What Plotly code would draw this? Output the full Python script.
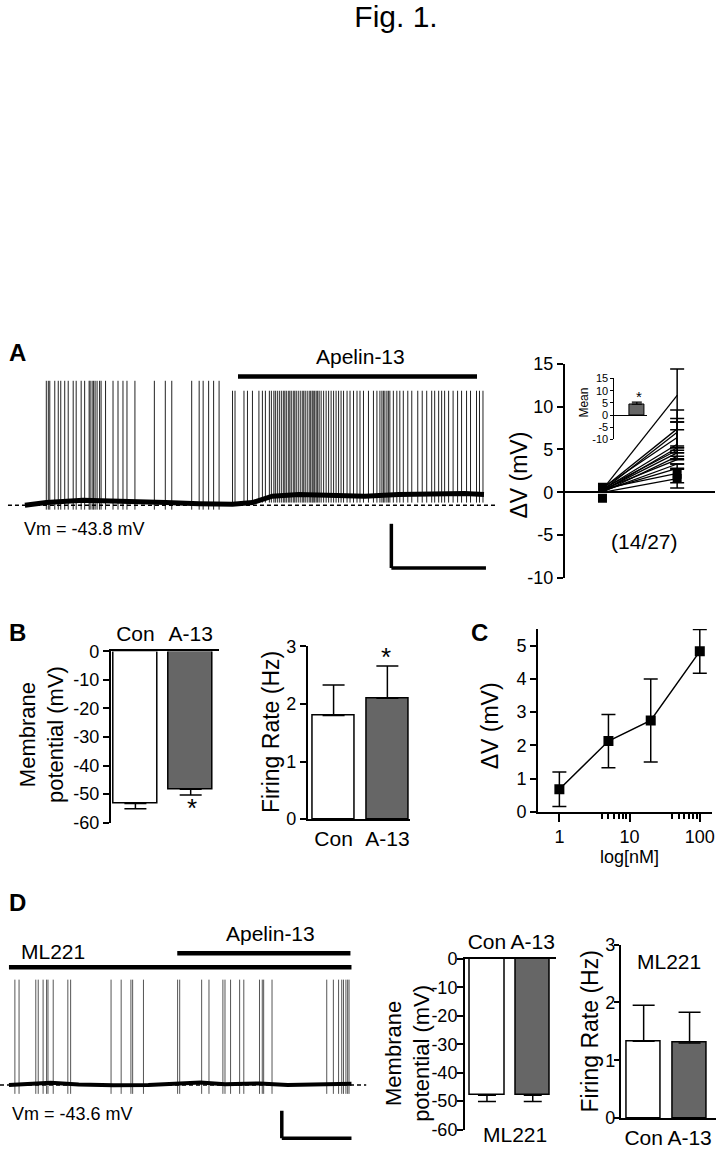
import plotly.graph_objects as go

W, H = 719, 1153
FONT = "Liberation Sans, Arial, Helvetica, sans-serif"

# ---------------- DATA ----------------
# Panel A: current-clamp trace (time in s, voltage in mV)
a_vm = -43.8
a_spikes_pre = [4.3, 4.7, 5.0, 6.0, 6.7, 7.2, 8.0, 8.7, 9.7, 10.3, 11.3, 12.0, 12.9, 13.1, 13.5,
                13.8, 14.1, 14.5, 15.0, 15.3, 16.2, 17.7, 18.7, 19.7, 20.5, 22.1, 26.0, 28.2, 29.5,
                33.5, 35.0, 35.8, 36.9, 37.9, 39.0]
a_spikes_post = [41.7, 42.2, 44.0, 44.7, 45.7, 47.0, 47.7, 48.3, 49.1, 49.5, 50.0, 50.3, 50.7, 51.1,
                 51.5, 51.9, 52.2, 52.5, 52.9, 53.2, 53.5, 53.9, 54.2, 54.5, 54.9, 55.3, 55.7, 56.0,
                 56.3, 56.7, 57.1, 57.4, 57.7, 57.9, 58.2, 58.5, 58.8, 59.1, 59.5, 60.0, 60.5, 61.0,
                 61.5, 62.0, 62.5, 63.0, 63.5, 64.0, 64.7, 65.3, 66.0, 66.7, 67.3, 68.0, 69.0, 70.0,
                 70.7, 71.3, 71.7, 72.0, 72.3, 72.7, 73.0, 73.3, 74.0, 74.7, 75.3, 76.0, 76.9, 77.7,
                 78.9, 79.8, 80.7, 81.7, 82.3, 83.1, 83.7, 84.3, 85.1, 86.0, 86.9, 87.7, 88.7, 89.5,
                 90.7, 91.3, 92.0]
a_peak_pre, a_peak_post = 12.5, 8.0
a_trough_pre, a_trough_post = -45.8, -42.6
a_base_t = [0, 4.3, 11.7, 21.7, 28.3, 35.0, 41.7, 45.7, 49.7, 55.0, 61.7, 68.3, 75.0, 81.7, 88.3, 92.2]
a_base_v = [-43.8, -42.6, -41.6, -41.9, -42.6, -43.1, -43.4, -42.6, -39.7, -38.9, -39.4, -39.7,
            -38.9, -38.6, -38.5, -38.9]
a_apelin = [42.8, 90.8]          # application window (s)
scale_s, scale_mv = 19, 20       # scale bar

# Panel A right: per-cell depolarisation
cell_x = [1, 2]
cell_before = [0.3, 0.4, 0.2, 0.5, 0.3, 0.1, 0.4, 0.2, 0.0, 0.3, 0.1, 0.2, 0.4, 0.0]
cell_after = [11.3, 7.4, 7.0, 6.4, 5.6, 5.2, 4.9, 4.6, 4.2, 3.8, 3.3, 2.8, 2.2, 1.6]
cell_after_err = [3.1, 2.2, 1.6, 1.8, 1.7, 0, 0, 0, 0, 0, 0, 0, 1.1, 1.1]
marker_x = [1, 1, 2, 2]
marker_y = [0.6, -0.7, 2.1, 1.6]
mean_dv, mean_dv_err = [4.5], [0.8]

# Panel B
cats = ["Con", "A-13"]
b_vm, b_vm_err = [-53.3, -48.3], [1.8, 2.0]
b_fr, b_fr_err = [1.80, 2.10], [0.53, 0.56]

# Panel C: concentration-response
c_conc = [1, 5, 20, 100]
c_dv = [0.68, 2.13, 2.75, 4.83]
c_err = [0.52, 0.80, 1.25, 0.66]

# Panel D: trace in ML221
d_vm = -43.6
d_spikes = [1.7, 2.9, 7.7, 8.4, 9.8, 10.8, 11.2, 12.7, 16.9, 17.7, 29.3, 32.2, 35.0, 35.5, 38.6,
            48.4, 49.0, 55.3, 57.4, 61.4, 62.0, 63.6, 66.2, 67.4, 71.9, 72.7, 73.1, 75.5, 91.2,
            93.1, 94.6, 95.5, 96.0, 96.7, 97.2, 97.6]
d_peak, d_trough = 33.0, -50.0
d_base_t = [0, 5, 12, 20, 30, 40, 48, 55, 62, 72, 80, 90, 98.3]
d_base_v = [-43.6, -43.0, -42.0, -43.2, -43.8, -43.6, -43.0, -41.8, -43.0, -42.4, -43.6, -43.0, -42.6]
d_ml221 = [0, 98.3]
d_apelin = [48.3, 98.0]
d_vm_bars, d_vm_err = [-47.9, -47.9], [2.2, 2.2]
d_fr, d_fr_err = [1.33, 1.30], [0.62, 0.53]


# ---------------- HELPERS ----------------
def dx(a, b):
    return [a / W, b / W]


def dy(top, bottom):
    return [1 - bottom / H, 1 - top / H]


def P(x, y):
    return x / W, 1 - y / H


def spikes(times, lo, hi):
    xs, ys = [], []
    for t in times:
        xs += [t, t, None]
        ys += [lo, hi, None]
    return xs, ys


def tk(vals):
    return dict(tickvals=vals, ticktext=[str(v) for v in vals])


fig = go.Figure()
BLACK = "black"

# ----- Panel A trace (x, y)
sx, sy = spikes(a_spikes_pre, a_trough_pre, a_peak_pre)
fig.add_trace(go.Scatter(x=sx, y=sy, mode="lines", line=dict(color="#222", width=1),
                         xaxis="x", yaxis="y", hoverinfo="skip"))
sx, sy = spikes(a_spikes_post, a_trough_post, a_peak_post)
fig.add_trace(go.Scatter(x=sx, y=sy, mode="lines", line=dict(color="#222", width=1),
                         xaxis="x", yaxis="y", hoverinfo="skip"))
fig.add_trace(go.Scatter(x=a_base_t, y=a_base_v, mode="lines", line=dict(color=BLACK, width=5),
                         xaxis="x", yaxis="y", hoverinfo="skip"))

# ----- Panel A right (x2, y2)
lx, ly = [], []
for b, a in zip(cell_before, cell_after):
    lx += [cell_x[0], cell_x[1], None]
    ly += [b, a, None]
fig.add_trace(go.Scatter(x=lx, y=ly, mode="lines", line=dict(color=BLACK, width=1.3),
                         xaxis="x2", yaxis="y2"))
fig.add_trace(go.Scatter(x=[cell_x[1]] * len(cell_after), y=cell_after, mode="markers",
                         marker=dict(size=1, color=BLACK),
                         error_y=dict(type="data", array=cell_after_err, color=BLACK,
                                      thickness=1.5, width=7),
                         xaxis="x2", yaxis="y2"))
fig.add_trace(go.Scatter(x=marker_x, y=marker_y, mode="markers",
                         marker=dict(symbol="square", size=9, color=BLACK),
                         xaxis="x2", yaxis="y2"))

# ----- Inset (x3, y3)
fig.add_trace(go.Bar(x=[0], y=mean_dv, width=1.0, marker=dict(color="#666", line=dict(color=BLACK, width=1)),
                     error_y=dict(type="data", array=mean_dv_err, arrayminus=[0], symmetric=False,
                                  color=BLACK, thickness=1.2, width=5),
                     xaxis="x3", yaxis="y3"))

# ----- Panel B left (x4, y4)
fig.add_trace(go.Bar(x=[0, 1], y=b_vm, width=0.785,
                     marker=dict(color=["white", "#666"], line=dict(color=BLACK, width=1.5)),
                     error_y=dict(type="data", array=[0, 0], arrayminus=b_vm_err, symmetric=False,
                                  color=BLACK, thickness=1.5, width=11),
                     xaxis="x4", yaxis="y4"))
# ----- Panel B right (x5, y5)
fig.add_trace(go.Bar(x=[0, 1], y=b_fr, width=0.78,
                     marker=dict(color=["white", "#666"], line=dict(color=BLACK, width=1.5)),
                     error_y=dict(type="data", array=b_fr_err, arrayminus=[0, 0], symmetric=False,
                                  color=BLACK, thickness=1.5, width=11),
                     xaxis="x5", yaxis="y5"))

# ----- Panel C (x6, y6)
fig.add_trace(go.Scatter(x=c_conc, y=c_dv, mode="lines+markers",
                         line=dict(color=BLACK, width=1.5),
                         marker=dict(symbol="square", size=10, color=BLACK),
                         error_y=dict(type="data", array=c_err, color=BLACK, thickness=1.5, width=7),
                         xaxis="x6", yaxis="y6"))

# ----- Panel D trace (x7, y7)
sx, sy = spikes(d_spikes, d_trough, d_peak)
fig.add_trace(go.Scatter(x=sx, y=sy, mode="lines", line=dict(color="#555", width=1),
                         xaxis="x7", yaxis="y7", hoverinfo="skip"))
fig.add_trace(go.Scatter(x=d_base_t, y=d_base_v, mode="lines", line=dict(color=BLACK, width=4),
                         xaxis="x7", yaxis="y7", hoverinfo="skip"))

# ----- Panel D middle (x8, y8)
fig.add_trace(go.Bar(x=[0, 1], y=d_vm_bars, width=0.76,
                     marker=dict(color=["white", "#666"], line=dict(color=BLACK, width=1.5)),
                     error_y=dict(type="data", array=[0, 0], arrayminus=d_vm_err, symmetric=False,
                                  color=BLACK, thickness=1.5, width=9),
                     xaxis="x8", yaxis="y8"))
# ----- Panel D right (x9, y9)
fig.add_trace(go.Bar(x=[0, 1], y=d_fr, width=0.75,
                     marker=dict(color=["white", "#666"], line=dict(color=BLACK, width=1.5)),
                     error_y=dict(type="data", array=d_fr_err, arrayminus=[0, 0], symmetric=False,
                                  color=BLACK, thickness=1.5, width=11),
                     xaxis="x9", yaxis="y9"))

# ---------------- AXES ----------------
TICKF = dict(family=FONT, size=18, color=BLACK)
base_ax = dict(showline=True, linecolor=BLACK, linewidth=1.5, ticks="outside", ticklen=6,
               tickwidth=1.5, tickcolor=BLACK, tickfont=TICKF, showgrid=False, zeroline=False,
               fixedrange=True)
hidden = dict(visible=False, fixedrange=True, showgrid=False, zeroline=False)
CATF = dict(family=FONT, size=21, color=BLACK)

lay = dict(
    xaxis=dict(hidden, domain=dx(0, 500), range=[-5, 95], anchor="y"),
    yaxis=dict(hidden, domain=dy(340, 580), range=[-77.6, 29.1], anchor="x"),

    xaxis2=dict(hidden, domain=dx(567, 718), range=[0.493, 2.507], anchor="y2"),
    yaxis2=dict(base_ax, domain=dy(360, 578), range=[-10, 15], anchor="x2",
                zeroline=True, zerolinecolor=BLACK, zerolinewidth=1.5, **tk([-10, -5, 0, 5, 10, 15])),

    xaxis3=dict(hidden, domain=dx(617, 650), range=[-1.5, 0.7], anchor="y3"),
    yaxis3=dict(base_ax, domain=dy(375, 437), range=[-10, 15], anchor="x3",
                ticklen=3, tickwidth=1, linewidth=1, tickfont=dict(family=FONT, size=11, color=BLACK),
                zeroline=True, zerolinecolor=BLACK, zerolinewidth=1, **tk([-10, -5, 0, 5, 10, 15])),

    xaxis4=dict(base_ax, domain=dx(111, 220), range=[-0.45, 1.514], anchor="y4", side="top",
                ticks="", tickvals=[0, 1], ticktext=cats, tickfont=CATF),
    yaxis4=dict(base_ax, domain=dy(652.7, 827), range=[-60, 0], anchor="x4",
                **tk([-60, -50, -40, -30, -20, -10, 0])),

    xaxis5=dict(base_ax, domain=dx(309, 412), range=[-0.481, 1.426], anchor="y5",
                ticks="", tickvals=[0, 1], ticktext=cats, tickfont=CATF),
    yaxis5=dict(base_ax, domain=dy(647.7, 823.3), range=[0, 3], anchor="x5", **tk([0, 1, 2, 3])),

    xaxis6=dict(base_ax, domain=dx(540, 715), type="log", range=[-0.308, 2.174], anchor="y6",
                tickvals=[1, 10, 100], ticktext=["1", "10", "100"], ticklen=8,
                minor=dict(tickvals=[4, 5, 6, 7, 8, 9, 40, 50, 60, 70, 80, 90], ticks="outside",
                           ticklen=5, tickwidth=1.5, tickcolor=BLACK)),
    yaxis6=dict(base_ax, domain=dy(630, 816), range=[0, 5.5], anchor="x6", **tk([0, 1, 2, 3, 4, 5])),

    xaxis7=dict(hidden, domain=dx(0, 368), range=[-2.57, 102.6], anchor="y7"),
    yaxis7=dict(hidden, domain=dy(940, 1153), range=[-85.7, 66.4], anchor="x7"),

    xaxis8=dict(base_ax, domain=dx(466.7, 558.3), range=[-0.485, 1.507], anchor="y8", side="top",
                ticks="", tickvals=[0, 1], ticktext=cats, tickfont=CATF),
    yaxis8=dict(base_ax, domain=dy(965.7, 1139.3), range=[-60, 0], anchor="x8", ticklabelstandoff=-4,
                **tk([-60, -50, -40, -30, -20, -10, 0])),

    xaxis9=dict(base_ax, domain=dx(623.3, 719), range=[-0.5, 1.576], anchor="y9",
                ticks="", tickvals=[0, 1], ticktext=cats, tickfont=CATF),
    yaxis9=dict(base_ax, domain=dy(951, 1127.7), range=[0, 3], anchor="x9", ticklabelstandoff=-5,
                ticklen=5, **tk([0, 1, 2, 3])),
)

# ---------------- SHAPES ----------------
shapes = []


def seg(xref, yref, x0, y0, x1, y1, width=1.5, dash=None):
    d = dict(type="line", xref=xref, yref=yref, x0=x0, y0=y0, x1=x1, y1=y1, layer="above",
             line=dict(color=BLACK, width=width))
    if dash:
        d["line"]["dash"] = dash
    shapes.append(d)


# Panel A trace decorations
seg("x", "y", -3.4, a_vm, 94.6, a_vm, 1.5, "4px,3px")
seg("x", "y", a_apelin[0], 14.4, a_apelin[1], 14.4, 4.5)
sb_x, sb_y = 73.6, -52.2
seg("x", "y", sb_x, sb_y, sb_x, sb_y - scale_mv, 3.5)
seg("x", "y", sb_x, sb_y - scale_mv, sb_x + scale_s, sb_y - scale_mv, 3.5)

# Panel D trace decorations
seg("x7", "y7", -2.57, d_vm, 102.6, d_vm, 1.5, "4px,3px")
seg("x7", "y7", d_ml221[0], 42.1, d_ml221[1], 42.1, 4.5)
seg("x7", "y7", d_apelin[0], 52.1, d_apelin[1], 52.1, 4.5)
sd_x, sd_y = 78.3, -62.2
seg("x7", "y7", sd_x, sd_y, sd_x, sd_y - 20, 3.5)
seg("x7", "y7", sd_x, sd_y - 20, sd_x + 20, sd_y - 20, 3.5)

# ---------------- ANNOTATIONS ----------------
anns = []


def ann(text, x, y, size, xanchor="center", yanchor="middle", angle=0, bold=False):
    px_, py_ = P(x, y)
    t = f"<b>{text}</b>" if bold else text
    anns.append(dict(text=t, x=px_, y=py_, xref="paper", yref="paper", showarrow=False,
                     xanchor=xanchor, yanchor=yanchor, textangle=angle,
                     font=dict(family=FONT, size=size, color=BLACK)))


ann("A", 7, 349, 24, xanchor="left", bold=True)
ann("B", 7, 633, 24, xanchor="left", bold=True)
ann("C", 471, 633, 24, xanchor="left", bold=True)
ann("D", 7, 908, 24, xanchor="left", bold=True)

ann("Apelin-13", 362, 353, 21)
ann("Vm = -43.8 mV", 22, 528, 18, xanchor="left")
ann("ΔV (mV)", 521, 473, 23, angle=-90)
ann("(14/27)", 647, 541, 21)
ann("Mean", 587, 400, 12, angle=-90)
ann("*", 642, 393, 15)

ann("Membrane<br>potential (mV)", 42, 737, 22, angle=-90)
ann("*", 193, 812, 26)
ann("Firing Rate (Hz)", 272, 735, 23, angle=-90)
ann("*", 388, 658, 26)

ann("ΔV (mV)", 492, 728, 23, angle=-90)
ann("log[nM]", 632, 862, 18)

ann("ML221", 53, 958, 21)
ann("Apelin-13", 272, 940, 21)
ann("Vm = -43.6 mV", 10, 1123, 18, xanchor="left")
ann("Membrane<br>potential (mV)", 409, 1062, 22, angle=-90)
ann("ML221", 517, 1144, 21)
ann("Firing Rate (Hz)", 592, 1040, 23, angle=-90)
ann("ML221", 672, 968, 21)

fig.update_layout(**lay)
fig.update_layout(width=W, height=H, margin=dict(l=0, r=0, t=0, b=0), autosize=False,
                  paper_bgcolor="white", plot_bgcolor="rgba(0,0,0,0)", showlegend=False,
                  shapes=shapes, annotations=anns, bargap=0,
                  title=dict(text="Fig. 1.", x=396 / W, xanchor="center", xref="container",
                             y=1 - 16 / H, yanchor="middle", yref="container",
                             font=dict(family=FONT, size=30, color=BLACK)),
                  font=dict(family=FONT, color=BLACK))

fig.write_html("out.html", config={"displayModeBar": False},
               post_script="document.body.style.margin='0';document.body.style.overflow='hidden';")
